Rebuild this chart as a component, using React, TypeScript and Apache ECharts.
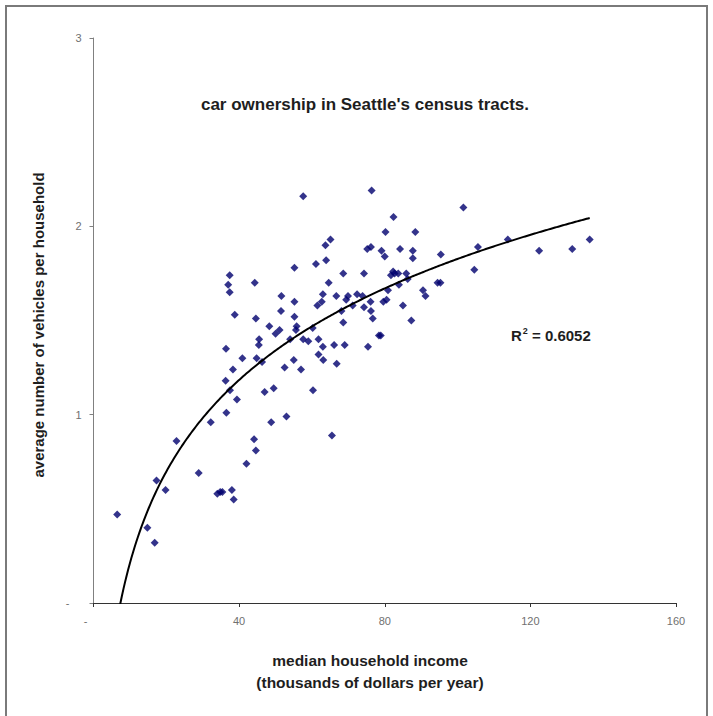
import React, { useEffect, useRef } from "react";
import * as echarts from "echarts";

// median household income (thousands of dollars per year)
const incomes: number[] = [
  6.5, 14.8, 16.8, 17.3, 19.8, 22.8, 28.9, 32.2, 34.0, 34.8, 35.4, 38.0, 38.5, 42.0, 44.1, 44.6, 48.8, 53.0, 65.5,
  36.4, 36.3, 36.5, 37.5, 38.3, 39.4, 40.9, 44.8, 46.3, 45.4, 45.5, 47.0, 49.5, 52.5, 55.0, 57.0, 60.3, 54.0, 57.6,
  59.0, 60.2, 61.8, 63.0, 63.1, 61.8, 66.1, 66.8, 69.0, 68.6, 37.0, 37.4, 37.4, 38.8, 44.3, 44.6, 48.3, 50.0, 51.1,
  51.5, 51.6, 55.2, 55.2, 55.8, 55.6, 55.2, 57.6, 61.1, 61.5, 62.7, 63.0, 63.7, 63.9, 65.1, 64.6, 66.7, 68.1, 68.6,
  69.4, 69.9, 71.2, 72.4, 73.9, 74.3, 74.3, 75.2, 76.1, 76.2, 76.7, 75.4, 76.2, 76.4, 78.4, 78.9, 79.1, 80.0, 80.2,
  79.6, 80.5, 80.9, 81.7, 82.3, 82.7, 82.4, 83.7, 84.2, 83.9, 85.0, 85.9, 86.3, 87.7, 87.7, 87.3, 88.4, 90.5, 91.2,
  94.5, 95.3, 95.4, 101.6, 104.6, 105.6, 113.8, 122.4, 131.5, 136.3,
];

// average number of vehicles per household
const vehicles: number[] = [
  0.47, 0.40, 0.32, 0.65, 0.60, 0.86, 0.69, 0.96, 0.58, 0.59, 0.59, 0.60, 0.55, 0.74, 0.87, 0.81, 0.96, 0.99, 0.89,
  1.35, 1.18, 1.01, 1.13, 1.24, 1.08, 1.30, 1.30, 1.28, 1.37, 1.40, 1.12, 1.14, 1.25, 1.29, 1.24, 1.13, 1.40, 1.40,
  1.39, 1.46, 1.32, 1.36, 1.29, 1.40, 1.37, 1.27, 1.37, 1.49, 1.69, 1.65, 1.74, 1.53, 1.70, 1.51, 1.47, 1.43, 1.45,
  1.55, 1.63, 1.60, 1.52, 1.47, 1.45, 1.78, 2.16, 1.80, 1.58, 1.60, 1.64, 1.90, 1.82, 1.93, 1.70, 1.63, 1.55, 1.75,
  1.61, 1.63, 1.58, 1.64, 1.63, 1.75, 1.57, 1.88, 1.60, 1.55, 1.51, 1.36, 1.89, 2.19, 1.42, 1.42, 1.87, 1.84, 1.97,
  1.60, 1.61, 1.66, 1.74, 1.76, 1.75, 2.05, 1.75, 1.88, 1.69, 1.58, 1.75, 1.72, 1.87, 1.83, 1.50, 1.97, 1.66, 1.63,
  1.70, 1.70, 1.85, 2.10, 1.77, 1.89, 1.93, 1.87, 1.88, 1.93,
];

const xTicks: number[] = [0, 40, 80, 120, 160];
const yTicks: number[] = [0, 1, 2, 3];

// logarithmic trendline y = A ln(x) + B (as fitted in the chart)
const TREND_A = 0.7016;
const TREND_B = -1.404;
const R2_TEXT = "0.6052";

const TITLE = "car ownership in Seattle's census tracts.";
const X_NAME_1 = "median household income";
const X_NAME_2 = "(thousands of dollars per year)";
const Y_NAME = "average number of vehicles per household";

export default function App() {
  const ref = useRef<HTMLDivElement>(null);

  useEffect(() => {
    if (!ref.current) return;
    const chart = echarts.init(ref.current, null, { renderer: "svg" });

    const points = incomes.map((x, i) => [x, vehicles[i]]);
    const xMin = Math.min(...incomes);
    const xMax = Math.max(...incomes);
    const trend: number[][] = [];
    const steps = 300;
    for (let i = 0; i <= steps; i++) {
      const x = xMin + ((xMax - xMin) * i) / steps;
      trend.push([x, TREND_A * Math.log(x) + TREND_B]);
    }

    const font = "Liberation Sans, Arial, sans-serif";
    const textColor = "#1e1e1e";

    chart.setOption({
      animation: false,
      backgroundColor: "#ffffff",
      grid: { left: 93.5, right: 37, top: 38, bottom: 113, containLabel: false },
      xAxis: {
        type: "value",
        min: xTicks[0],
        max: xTicks[xTicks.length - 1],
        interval: 40,
        axisLine: { show: true, lineStyle: { color: "#333333", width: 1 } },
        axisTick: { show: true, length: 4, lineStyle: { color: "#333333" } },
        splitLine: { show: false },
        axisLabel: {
          color: "#707070",
          fontFamily: font,
          fontSize: 11,
          margin: 12,
          formatter: (v: number) => (v === 0 ? "{z|-}" : String(v)),
          rich: { z: { padding: [0, 16, 0, 0], color: "#707070", fontSize: 11 } },
        },
      },
      yAxis: {
        type: "value",
        min: yTicks[0],
        max: yTicks[yTicks.length - 1],
        interval: 1,
        axisLine: { show: true, lineStyle: { color: "#808080", width: 1 } },
        axisTick: { show: true, length: 4, lineStyle: { color: "#808080" } },
        splitLine: { show: false },
        axisLabel: {
          color: "#707070",
          fontFamily: font,
          fontSize: 11,
          margin: 12,
          formatter: (v: number) => (v === 0 ? "{z|-}" : String(v)),
          rich: { z: { padding: [0, 12, 0, 0], color: "#707070", fontSize: 11 } },
        },
      },
      series: [
        {
          type: "scatter",
          data: points,
          symbol: "diamond",
          symbolSize: 8,
          itemStyle: { color: "#00006e" },
          z: 3,
        },
        {
          type: "line",
          data: trend,
          showSymbol: false,
          symbol: "none",
          smooth: false,
          clip: true,
          lineStyle: { color: "#000000", width: 2 },
          z: 4,
        },
      ],
      graphic: [
        {
          type: "rect",
          shape: { x: 6, y: 6, width: 701, height: 730 },
          style: { fill: "none", stroke: "#7a7a7a", lineWidth: 2 },
          silent: true,
        },
        {
          type: "text",
          x: 365,
          y: 104,
          style: {
            text: TITLE,
            font: `bold 17px ${font}`,
            fill: textColor,
            align: "center",
            verticalAlign: "middle",
          },
        },
        {
          type: "text",
          x: 511,
          y: 335,
          style: {
            text: `{a|R}{s|2}{a| = ${R2_TEXT}}`,
            rich: {
              a: { font: `bold 15px ${font}`, fill: textColor, verticalAlign: "middle" },
              s: { font: `bold 9px ${font}`, fill: textColor, padding: [0, 0, 9, 1] },
            },
            verticalAlign: "middle",
            align: "left",
          },
        },
        {
          type: "text",
          x: 370,
          y: 660,
          style: {
            text: X_NAME_1,
            font: `bold 15.5px ${font}`,
            fill: textColor,
            align: "center",
            verticalAlign: "middle",
          },
        },
        {
          type: "text",
          x: 370,
          y: 682,
          style: {
            text: X_NAME_2,
            font: `bold 15.5px ${font}`,
            fill: textColor,
            align: "center",
            verticalAlign: "middle",
          },
        },
        {
          type: "text",
          x: 38,
          y: 325,
          rotation: Math.PI / 2,
          style: {
            text: Y_NAME,
            font: `bold 15px ${font}`,
            fill: textColor,
            align: "center",
            verticalAlign: "middle",
          },
        },
      ],
    });

    return () => chart.dispose();
  }, []);

  return (
    <div
      ref={ref}
      style={{ position: "absolute", left: 0, top: 0, width: 713, height: 716 }}
    />
  );
}
